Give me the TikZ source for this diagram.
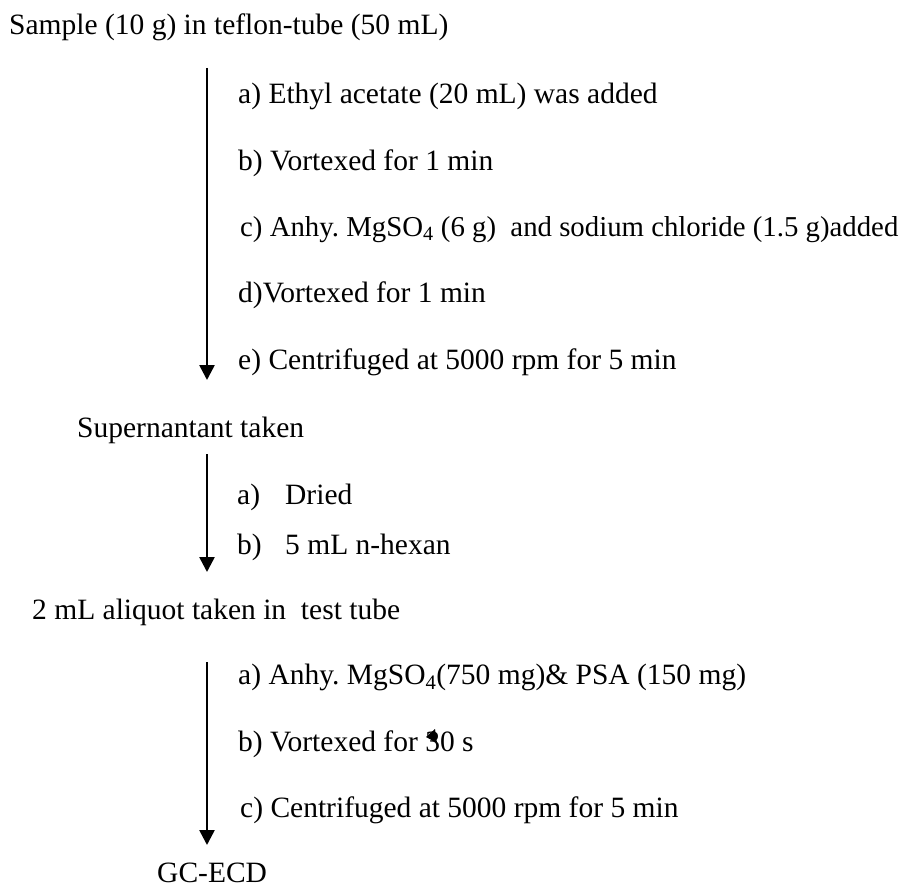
\documentclass[tikz,border=0pt]{standalone}
\usepackage{fontspec}
\setmainfont{Liberation Serif}
\usetikzlibrary{arrows.meta}
\frenchspacing
\begin{document}
\begin{tikzpicture}[x=1pt,y=-1pt,
  txt/.style={anchor=base west, inner sep=0pt, font=\fontsize{29.5}{36}\selectfont},
  flow/.style={line width=2.6pt, -{Triangle[length=15pt,width=15pt]}}]
\useasboundingbox (0,0) rectangle (912,888);
\node[txt] (sample) at (9,35) {Sample (10 g) in teflon-tube (50 mL)};
\node[txt] (s1a) at (238,103) {a) Ethyl acetate (20 mL) was added};
\node[txt] (s1b) at (238,170) {b) Vortexed for 1 min};
\node[txt, font=\fontsize{28.8}{36}\selectfont] (s1c) at (240,236) {c) Anhy.\ MgSO\textsubscript{4} (6 g)\ \ and sodium chloride (1.5 g)added};
\node[txt] (s1d) at (238,302) {d)Vortexed for 1 min};
\node[txt] (s1e) at (238,369) {e) Centrifuged at 5000 rpm for 5 min};
\node[txt] (super) at (77,437) {Supernantant taken};
\node[txt] (s2a) at (237,504) {\makebox[48pt][l]{a)}Dried};
\node[txt] (s2b) at (237,554) {\makebox[48pt][l]{b)}5 mL n-hexan};
\node[txt] (aliq) at (32,619) {2 mL aliquot taken in\ \ test tube};
\node[txt] (s3a) at (238,684) {a) Anhy.\ MgSO\textsubscript{4}(750 mg)\& PSA (150 mg)};
\node[txt] (s3b) at (238,751) {b) Vortexed for 30 s};
\node[txt] (s3c) at (240,817) {c) Centrifuged at 5000 rpm for 5 min};
\node[txt, text depth=0pt] (gc) at (157,882) {GC-ECD};
\coordinate (a1s) at (207,68);  \coordinate (a1e) at (207,380);
\coordinate (a2s) at (207,454); \coordinate (a2e) at (207,572);
\coordinate (a3s) at (207,662); \coordinate (a3e) at (207,845);
\draw[flow] (a1s) -- (a1e);
\draw[flow] (a2s) -- (a2e);
\draw[flow] (a3s) -- (a3e);
\fill (426,737) -- (435,729) -- (437,743) -- cycle;
\end{tikzpicture}
\end{document}
